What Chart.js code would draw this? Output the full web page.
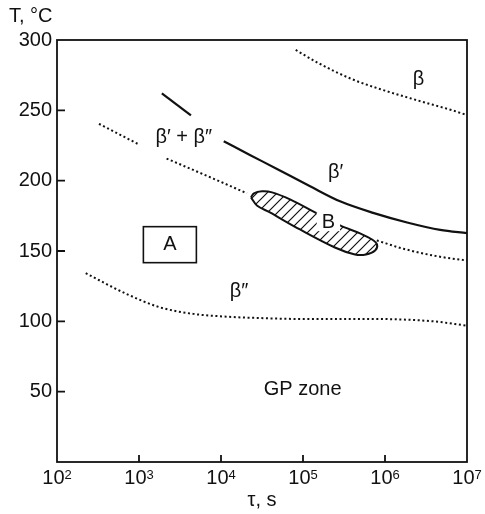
<!DOCTYPE html>
<html>
<head>
<meta charset="utf-8">
<script src="https://cdn.jsdelivr.net/npm/chart.js@4/dist/chart.umd.min.js"></script>
<style>
  html, body { margin: 0; padding: 0; background: #fff; }
</style>
</head>
<body>
<canvas id="myChart" width="485" height="514"></canvas>
<script>
// time axis ticks (powers of ten) and temperature ticks
const xTickExps = [2, 3, 4, 5, 6, 7];
const yTicks = [50, 100, 150, 200, 250, 300];

// beta boundary, dotted, top right
const betaX = [8.15e4, 1.54e5, 3.94e5, 1.0e6, 2.56e6, 6.55e6, 1.0e7];
const betaY = [292.9, 283.6, 272.2, 264.0, 256.9, 250.1, 246.6];

// short solid piece near beta' + beta''
const pieceX = [1.9e3, 4.3e3];
const pieceY = [262, 246.5];

// beta' boundary, solid
const betaPX = [1.08e4, 2.25e4, 4.82e4, 1.22e5, 2.83e5, 7.16e5, 1.86e6, 4.71e6, 1.0e7];
const betaPY = [228.0, 218.3, 208.3, 196.0, 185.3, 177.1, 170.3, 165.0, 162.7];

// beta'' -> beta' boundary, dotted (null = gap)
const lowerX = [3.25e2, 1.0e3, 1.5e3, 2.17e3, 8.04e3, 2.07e4, 1.0e5, 7.94e5, 1.68e6, 4.29e6, 1.0e7];
const lowerY = [240.4, 225.7, null, 215.7, 201.5, 191.0, null, 157.5, 151.6, 146.3, 143.2];

// beta'' boundary, dotted
const gpX = [2.24e2, 7.03e2, 1.79e3, 4.58e3, 1.17e4, 2.72e4, 9.1e4, 6.0e5, 3.9e6, 1.0e7];
const gpY = [134.2, 119.5, 110.0, 105.3, 103.3, 102.4, 101.7, 101.7, 100.0, 96.9];

// hatched region B outline
const regionX = [2.32e4, 2.52e4, 3.16e4, 4.19e4, 6.95e4, 1.48e5, 2.83e5, 4.97e5, 6.96e5, 8.0e5,
                 7.57e5, 5.87e5, 4.31e5, 2.45e5, 9.18e4, 3.95e4, 2.74e4, 2.32e4];
const regionY = [188.1, 191.0, 192.4, 191.7, 186.7, 176.7, 168.2, 162.5, 158.2, 154.7,
                 150.4, 147.5, 147.5, 152.5, 165.3, 177.4, 182.4, 188.1];

// text in the plot
const labelText = ['β', 'β′ + β″', 'β′', 'β″', 'GP zone'];
const labelX = [2.56e6, 3.52e3, 2.5e5, 1.66e4, 9.9e4];
const labelY = [272.2, 230.7, 206.0, 121.4, 51.2];
const markB = ['B', 2.04e5, 170.5];
const boxA = ['A', 2.38e3, 154.5];

const FONT = '"Liberation Sans", Arial, sans-serif';
const INK = '#111';
const FS = 20;
Chart.defaults.font.family = FONT;

function pts(xs, ys) {
  return xs.map((x, i) => ({ x: x, y: ys[i] }));
}

function hatch() {
  const c = document.createElement('canvas');
  c.width = 10; c.height = 10;
  const g = c.getContext('2d');
  g.fillStyle = '#fff';
  g.fillRect(0, 0, 10, 10);
  g.strokeStyle = INK;
  g.lineWidth = 1.2;
  g.beginPath();
  g.moveTo(0, 10); g.lineTo(10, 0);
  g.moveTo(-5, 5); g.lineTo(5, -5);
  g.moveTo(5, 15); g.lineTo(15, 5);
  g.stroke();
  return g.createPattern(c, 'repeat');
}

const dotted = { borderDash: [2, 2.6], borderWidth: 2, borderCapStyle: 'butt', cubicInterpolationMode: 'monotone' };

const decor = {
  id: 'decor',
  afterDatasetsDraw(chart) {
    const { ctx, chartArea: a, scales: { x, y } } = chart;
    ctx.save();
    ctx.strokeStyle = INK;
    ctx.fillStyle = INK;

    // frame
    ctx.lineWidth = 1.8;
    ctx.strokeRect(a.left, a.top, a.right - a.left, a.bottom - a.top);

    // inward ticks
    ctx.beginPath();
    yTicks.forEach(v => {
      if (v >= 300) return;
      const py = y.getPixelForValue(v);
      ctx.moveTo(a.left, py);
      ctx.lineTo(a.left + 8, py);
    });
    xTickExps.forEach(e => {
      if (e === xTickExps[0] || e === xTickExps[xTickExps.length - 1]) return;
      const px = x.getPixelForValue(Math.pow(10, e));
      ctx.moveTo(px, a.bottom);
      ctx.lineTo(px, a.bottom - 7);
    });
    ctx.stroke();

    // x tick labels 10^n
    ctx.textBaseline = 'alphabetic';
    ctx.textAlign = 'left';
    xTickExps.forEach(e => {
      const px = x.getPixelForValue(Math.pow(10, e));
      ctx.font = FS + 'px ' + FONT;
      const wb = ctx.measureText('10').width;
      ctx.font = '13px ' + FONT;
      const we = ctx.measureText(String(e)).width;
      const left = px - (wb + we) / 2;
      ctx.font = FS + 'px ' + FONT;
      ctx.fillText('10', left, a.bottom + 21.5);
      ctx.font = '13px ' + FONT;
      ctx.fillText(String(e), left + wb, a.bottom + 16.5);
    });

    // y axis title
    ctx.font = FS + 'px ' + FONT;
    ctx.fillText('T, °C', a.left - 48, a.top - 18);

    // region labels
    ctx.textAlign = 'center';
    ctx.textBaseline = 'middle';
    labelText.forEach((t, i) => {
      ctx.fillText(t, x.getPixelForValue(labelX[i]), y.getPixelForValue(labelY[i]));
    });

    // B with white backing
    const bx = x.getPixelForValue(markB[1]);
    const by = y.getPixelForValue(markB[2]);
    const bw = ctx.measureText(markB[0]).width;
    ctx.fillStyle = '#fff';
    ctx.fillRect(bx - bw / 2 - 5, by - 10, bw + 10, 19);
    ctx.fillStyle = INK;
    ctx.fillText(markB[0], bx, by);

    // boxed A
    const ax = x.getPixelForValue(boxA[1]);
    const ay = y.getPixelForValue(boxA[2]);
    ctx.lineWidth = 1.6;
    ctx.strokeRect(ax - 26.5, ay - 18, 53, 36);
    ctx.fillText(boxA[0], ax, ay);

    ctx.restore();
  }
};

const ctx = document.getElementById('myChart');

new Chart(ctx, {
  type: 'scatter',
  data: {
    datasets: [{
      label: 'B',
      data: pts(regionX, regionY),
      showLine: true,
      borderColor: INK,
      borderWidth: 2,
      backgroundColor: hatch(),
      fill: 'shape',
      tension: 0.35
    }, {
      label: 'beta',
      data: pts(betaX, betaY),
      showLine: true,
      borderColor: INK,
      ...dotted
    }, {
      label: 'piece',
      data: pts(pieceX, pieceY),
      showLine: true,
      borderColor: INK,
      borderWidth: 2.2
    }, {
      label: "beta'",
      data: pts(betaPX, betaPY),
      showLine: true,
      borderColor: INK,
      borderWidth: 2.2,
      cubicInterpolationMode: 'monotone'
    }, {
      label: "beta' + beta''",
      data: pts(lowerX, lowerY),
      showLine: true,
      spanGaps: false,
      borderColor: INK,
      ...dotted
    }, {
      label: "beta''",
      data: pts(gpX, gpY),
      showLine: true,
      borderColor: INK,
      ...dotted
    }]
  },
  options: {
    responsive: false,
    animation: false,
    devicePixelRatio: 1,
    layout: { padding: { top: 40, right: 18, left: 0, bottom: 0 } },
    elements: { point: { radius: 0, hoverRadius: 0 } },
    plugins: {
      legend: { display: false },
      title: { display: false },
      tooltip: { enabled: false }
    },
    scales: {
      x: {
        type: 'logarithmic',
        min: 100,
        max: 1e7,
        afterBuildTicks: s => { s.ticks = xTickExps.map(e => ({ value: Math.pow(10, e) })); },
        afterFit: s => { s.height = 52; },
        ticks: { display: false },
        grid: { display: false, drawTicks: false },
        border: { display: false },
        title: {
          display: true,
          text: 'τ, s',
          color: INK,
          font: { size: FS },
          padding: { top: 0, bottom: 2 }
        }
      },
      y: {
        min: 0,
        max: 300,
        afterBuildTicks: s => { s.ticks = yTicks.map(v => ({ value: v })); },
        afterFit: s => { s.width = 57; },
        ticks: { color: INK, font: { size: FS }, padding: 5 },
        grid: { display: false, drawTicks: false },
        border: { display: false }
      }
    }
  },
  plugins: [decor]
});
</script>
</body>
</html>
